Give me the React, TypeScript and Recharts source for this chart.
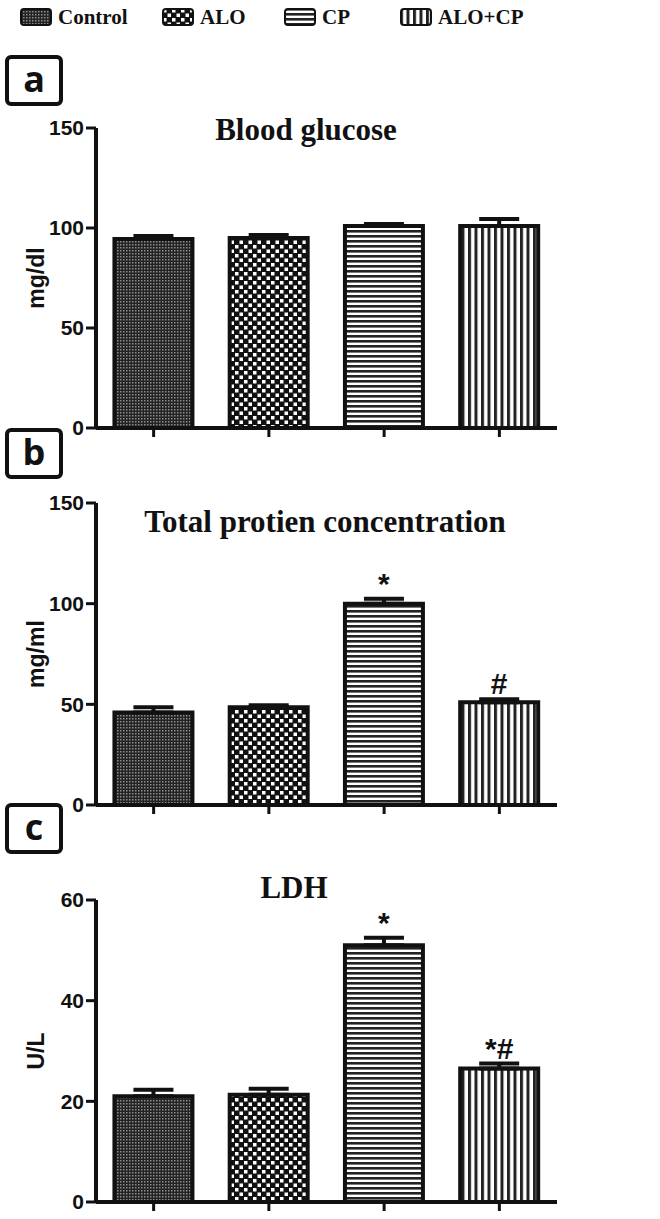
import React from 'react';
import { BarChart, Bar, XAxis, YAxis, ErrorBar, LabelList, Cell } from 'recharts';

// groups and values (mean, SEM)
const groups = ['Control', 'ALO', 'CP', 'ALO+CP'];

const glucoseMean = [94.5, 95, 101, 101];
const glucoseSem = [1.5, 1.5, 1, 3.5];
const glucoseSig = ['', '', '', ''];

const proteinMean = [46, 48.5, 100, 51];
const proteinSem = [2.5, 1, 2.5, 1.5];
const proteinSig = ['', '', '*', '#'];

const ldhMean = [21, 21.3, 51, 26.5];
const ldhSem = [1.3, 1.2, 1.5, 1];
const ldhSig = ['', '', '*', '*#'];

const mgTicks = [0, 50, 100, 150];
const ldhTicks = [0, 20, 40, 60];

const patternIds = ['pat-control', 'pat-alo', 'pat-cp', 'pat-alocp'];

const sans = '"Liberation Sans", Arial, sans-serif';
const serif = '"Liberation Serif", "Times New Roman", serif';

const makeRows = (mean: number[], sem: number[], sig: string[]) =>
  groups.map((g, i) => ({ group: g, mean: mean[i], sem: sem[i], err: [0, sem[i]], sig: sig[i] }));

const Patterns = () => (
  <svg width={0} height={0} style={{ position: 'absolute' }}>
    <defs>
      <pattern id="pat-control" width={3} height={3} patternUnits="userSpaceOnUse">
        <rect width={3} height={3} fill="#232323" />
        <rect width={1.5} height={1.5} fill="#8c8c8c" />
      </pattern>
      <pattern id="pat-alo" width={9} height={9} patternUnits="userSpaceOnUse">
        <rect width={9} height={9} fill="#111" />
        <rect x={1} y={1} width={3.5} height={3.5} fill="#fff" />
        <rect x={5.5} y={5.5} width={3.5} height={3.5} fill="#fff" />
      </pattern>
      <pattern id="pat-cp" width={5} height={5} patternUnits="userSpaceOnUse">
        <rect width={5} height={5} fill="#fff" />
        <rect width={5} height={2.6} fill="#222" />
      </pattern>
      <pattern id="pat-alocp" width={6.5} height={6.5} patternUnits="userSpaceOnUse">
        <rect width={6.5} height={6.5} fill="#fff" />
        <rect width={3} height={6.5} fill="#222" />
      </pattern>
    </defs>
  </svg>
);

interface PanelProps {
  top: number;
  rows: any[];
  ticks: number[];
  max: number;
  unit: string;
  plotH: number;
}

const Panel = ({ top, rows, ticks, max, unit, plotH }: PanelProps) => (
  <div style={{ position: 'absolute', left: 0, top }}>
    <BarChart
      width={660}
      height={28 + plotH + 18}
      data={rows}
      margin={{ top: 28, right: 103, bottom: 0, left: 0 }}
      barCategoryGap="16%"
    >
      <XAxis
        dataKey="group"
        tickFormatter={() => ''}
        tickSize={9}
        height={18}
        axisLine={{ stroke: '#111', strokeWidth: 4 }}
        tickLine={{ stroke: '#111', strokeWidth: 3 }}
      />
      <YAxis
        type="number"
        domain={[0, max]}
        ticks={ticks}
        interval={0}
        width={96}
        tickSize={10}
        tickMargin={2}
        axisLine={{ stroke: '#111', strokeWidth: 4 }}
        tickLine={{ stroke: '#111', strokeWidth: 3 }}
        tick={{ fontSize: 21, fontWeight: 'bold', fill: '#111', fontFamily: sans }}
        label={{
          value: unit,
          angle: -90,
          position: 'insideLeft',
          offset: 36,
          style: { textAnchor: 'middle', fontSize: 23, fontWeight: 'bold', fill: '#111', fontFamily: sans },
        }}
      />
      <Bar dataKey="mean" stackId="s" stroke="#111" strokeWidth={4} isAnimationActive={false}>
        {rows.map((r, i) => (
          <Cell key={r.group} fill={`url(#${patternIds[i]})`} />
        ))}
        <ErrorBar dataKey="err" direction="y" width={20} stroke="#111" strokeWidth={4} isAnimationActive={false} />
      </Bar>
      <Bar dataKey="sem" stackId="s" fill="none" isAnimationActive={false}>
        <LabelList
          dataKey="sig"
          position="top"
          offset={5}
          style={{ fontSize: 30, fontWeight: 'bold', fill: '#111', fontFamily: sans }}
        />
      </Bar>
    </BarChart>
  </div>
);

const Title = ({ text, cx, baseline }: { text: string; cx: number; baseline: number }) => (
  <div
    style={{
      position: 'absolute',
      left: cx - 250,
      width: 500,
      top: baseline - 26,
      textAlign: 'center',
      fontFamily: serif,
      fontWeight: 'bold',
      fontSize: 31,
      lineHeight: '31px',
      color: '#111',
    }}
  >
    {text}
  </div>
);

const PanelTag = ({ letter, top }: { letter: string; top: number }) => (
  <div
    style={{
      position: 'absolute',
      left: 5,
      top,
      width: 58,
      height: 51,
      boxSizing: 'border-box',
      border: '4px solid #111',
      borderRadius: 6,
      textAlign: 'center',
      fontFamily: '"Open Sans", sans-serif',
      fontWeight: 'bold',
      fontSize: 36,
      lineHeight: '40px',
      color: '#111',
    }}
  >
    {letter}
  </div>
);

const legendX = [20, 162, 284, 400];

const Legend = () => (
  <>
    {groups.map((g, i) => (
      <div key={g} style={{ position: 'absolute', left: legendX[i], top: 6, height: 22, display: 'flex', alignItems: 'center' }}>
        <svg width={32} height={18}>
          <rect x={1} y={1} width={30} height={16} rx={3} fill={`url(#${patternIds[i]})`} stroke="#111" strokeWidth={2} />
        </svg>
        <span
          style={{
            marginLeft: 6,
            fontFamily: serif,
            fontWeight: 'bold',
            fontSize: 21,
            color: '#111',
            lineHeight: '22px',
          }}
        >
          {g}
        </span>
      </div>
    ))}
  </>
);

export default function App() {
  return (
    <div style={{ position: 'absolute', left: 0, top: 0, width: 660, height: 1219, background: '#fff', overflow: 'hidden' }}>
      <Patterns />
      <Legend />

      <PanelTag letter="a" top={55} />
      <Title text="Blood glucose" cx={306} baseline={140} />
      <Panel top={100} rows={makeRows(glucoseMean, glucoseSem, glucoseSig)} ticks={mgTicks} max={150} unit="mg/dl" plotH={300} />

      <PanelTag letter="b" top={428} />
      <Title text="Total protien concentration" cx={325} baseline={532} />
      <Panel top={475} rows={makeRows(proteinMean, proteinSem, proteinSig)} ticks={mgTicks} max={150} unit="mg/ml" plotH={302} />

      <PanelTag letter="c" top={803} />
      <Title text="LDH" cx={294} baseline={898} />
      <Panel top={872} rows={makeRows(ldhMean, ldhSem, ldhSig)} ticks={ldhTicks} max={60} unit="U/L" plotH={302} />
    </div>
  );
}
